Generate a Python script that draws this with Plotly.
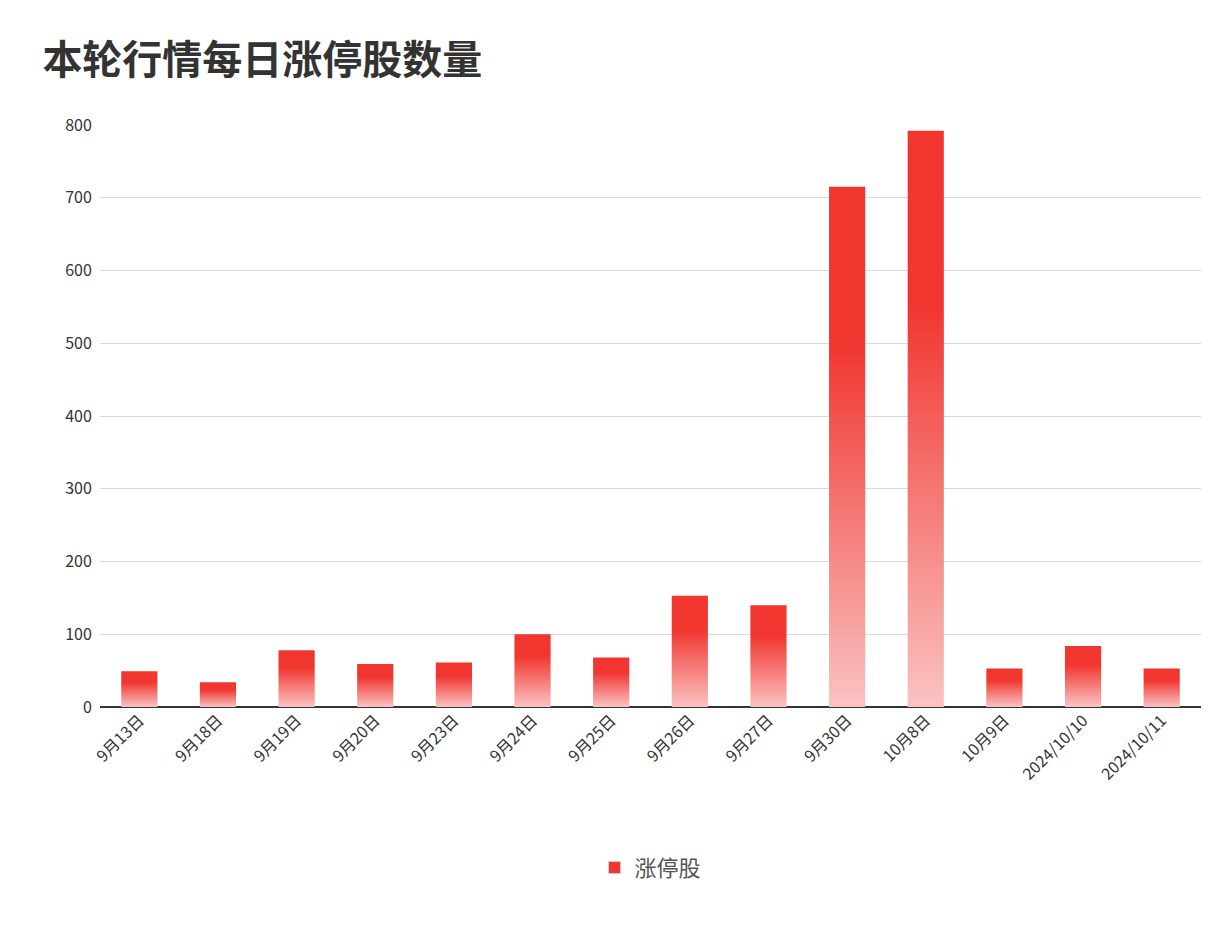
import plotly.graph_objects as go

categories = ["9月13日","9月18日","9月19日","9月20日","9月23日","9月24日","9月25日","9月26日","9月27日","9月30日","10月8日","10月9日","2024/10/10","2024/10/11"]
values = [49, 34, 78, 59, 61, 100, 68, 153, 140, 715, 792, 53, 84, 53]
series_name = "涨停股"

half = 0.23
fig = go.Figure()
for i, v in enumerate(values):
    fig.add_trace(go.Scatter(
        x=[i-half, i+half, i+half, i-half, i-half],
        y=[0, 0, v, v, 0],
        fill="toself", mode="lines", line=dict(width=0),
        fillgradient=dict(type="vertical",
                          colorscale=[[0, "#fac3c2"], [0.7, "#f1352f"], [1, "#f1352f"]],
                          start=0, stop=v),
        name=series_name, showlegend=False, hoverinfo="skip",
    ))
# legend entry only
fig.add_trace(go.Bar(x=[None], y=[None], name=series_name, marker=dict(color="#f1352f",
                     line=dict(color="#cccccc", width=1))))

fig.update_layout(
    width=1228, height=944,
    paper_bgcolor="white", plot_bgcolor="white",
    font=dict(family="Noto Sans CJK SC, sans-serif", color="#333", size=16),
    title=dict(text="<b>本轮行情每日涨停股数量</b>", x=0.028, y=0.96, xanchor="left",
               font=dict(size=40, color="#333")),
    margin=dict(l=92, r=35, t=117, b=245),
    xaxis=dict(tickmode="array", tickvals=list(range(len(categories))), ticktext=categories,
               range=[-0.5, len(categories)-0.5], tickangle=-45, showgrid=False,
               zeroline=False, showline=False, tickfont=dict(size=16, color="#333")),
    yaxis=dict(range=[0, 800], dtick=100, gridcolor="#d9d9d9", zeroline=True,
               zerolinecolor="#333", zerolinewidth=1.5, tickfont=dict(size=16, color="#333"),
               ticksuffix="  "),
    legend=dict(orientation="h", x=0.5, xanchor="center", y=-0.24, yanchor="top",
                font=dict(size=22, color="#555")),
    showlegend=True,
)
fig.write_html("out.html")
